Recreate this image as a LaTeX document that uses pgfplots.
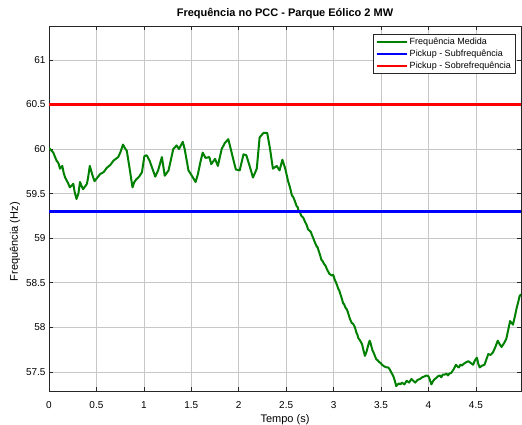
\documentclass[border=0pt]{standalone}
\usepackage{pgfplots}
\pgfplotsset{compat=1.18}
\usepackage{fontspec}
\setmainfont{Liberation Sans}
\definecolor{mgreen}{RGB}{0,128,0}
\definecolor{mblue}{RGB}{0,0,255}
\definecolor{mred}{RGB}{255,0,0}
\definecolor{axgray}{RGB}{38,38,38}
\begin{document}
\begin{tikzpicture}
\begin{axis}[
  scale only axis, width=472pt, height=365.5pt,
  at={(49pt,33.5pt)}, anchor=south west,
  xmin=0, xmax=4.975, ymin=57.28, ymax=61.38,
  xtick={0,0.5,...,4.5}, ytick={57.5,58,...,61},
  xticklabels={0,0.5,1,1.5,2,2.5,3,3.5,4,4.5},
  yticklabels={57.5,58,58.5,59,59.5,60,60.5,61},
  tick label style={font=\fontsize{10}{12}\selectfont},
  xticklabel style={anchor=base, yshift=-17pt},
  grid=major, major grid style={black!22, line width=0.6pt},
  axis line style={axgray, line width=0.7pt},
  tick style={axgray, line width=0.6pt}, major tick length=4pt,
  title={\bfseries Frequência no PCC - Parque Eólico 2 MW},
  title style={font=\fontsize{11}{13}\selectfont, at={(0.5,1)}, anchor=base, yshift=3pt},
  xlabel={Tempo (s)},
  xlabel style={font=\fontsize{11}{13}\selectfont, at={(0.5,0)}, anchor=base, yshift=-31pt},
  ylabel={Frequência (Hz)},
  ylabel style={font=\fontsize{11}{13}\selectfont, at={(axis description cs:-0.072,0.41)}, anchor=center},
  legend style={at={(1,1)}, anchor=north east, xshift=-6pt, yshift=-8pt,
    font=\fontsize{9}{10}\selectfont, draw=axgray,
    inner xsep=2pt, inner ysep=1.5pt, row sep=0pt},
  legend cell align=left,
  legend image code/.code={\draw[#1] plot coordinates {(0pt,0pt) (15pt,0pt) (30pt,0pt)};},
]
\addplot[color=mgreen, line width=2pt, line join=round] coordinates {
(0.00,60.01)(0.02,59.99)(0.045,59.96)(0.06,59.92)(0.08,59.87)(0.10,59.84)(0.116,59.78)(0.14,59.81)(0.155,59.73)(0.17,59.68)(0.20,59.62)(0.22,59.57)(0.24,59.59)(0.256,59.61)(0.27,59.52)(0.29,59.44)(0.31,59.50)(0.327,59.63)(0.345,59.58)(0.36,59.55)(0.38,59.58)(0.40,59.61)(0.415,59.70)(0.43,59.81)(0.46,59.70)(0.48,59.64)(0.51,59.68)(0.54,59.72)(0.575,59.74)(0.61,59.79)(0.645,59.82)(0.68,59.87)(0.705,59.89)(0.73,59.91)(0.755,59.97)(0.78,60.05)(0.80,60.01)(0.82,59.98)(0.85,59.78)(0.88,59.57)(0.90,59.63)(0.92,59.66)(0.95,59.69)(0.98,59.74)(1.005,59.92)(1.03,59.93)(1.06,59.87)(1.09,59.78)(1.12,59.69)(1.15,59.76)(1.19,59.91)(1.22,59.70)(1.26,59.76)(1.285,59.88)(1.31,60.00)(1.345,60.04)(1.37,60.00)(1.41,60.08)(1.43,60.00)(1.47,59.76)(1.50,59.71)(1.545,59.63)(1.57,59.72)(1.595,59.85)(1.62,59.96)(1.65,59.90)(1.69,59.91)(1.71,59.83)(1.75,59.89)(1.78,59.81)(1.82,60.00)(1.855,60.07)(1.89,60.11)(1.925,59.96)(1.95,59.85)(1.97,59.77)(2.01,59.76)(2.05,59.94)(2.08,59.93)(2.12,59.79)(2.15,59.68)(2.19,59.78)(2.22,60.13)(2.26,60.18)(2.30,60.18)(2.33,60.00)(2.36,59.78)(2.40,59.81)(2.43,59.76)(2.46,59.88)(2.49,59.78)(2.52,59.64)(2.54,59.57)(2.56,59.48)(2.575,59.46)(2.59,59.42)(2.61,59.36)(2.62,59.35)(2.63,59.31)(2.645,59.29)(2.66,59.25)(2.68,59.23)(2.70,59.18)(2.715,59.15)(2.73,59.10)(2.75,59.08)(2.76,59.07)(2.77,59.04)(2.785,59.00)(2.80,58.96)(2.82,58.91)(2.83,58.90)(2.845,58.85)(2.86,58.80)(2.87,58.76)(2.885,58.74)(2.90,58.71)(2.915,58.69)(2.93,58.65)(2.945,58.62)(2.955,58.60)(2.97,58.59)(2.98,58.58)(2.995,58.59)(3.01,58.54)(3.03,58.49)(3.05,58.43)(3.06,58.41)(3.075,58.36)(3.09,58.31)(3.10,58.27)(3.11,58.26)(3.125,58.22)(3.14,58.20)(3.15,58.17)(3.17,58.10)(3.19,58.05)(3.205,58.04)(3.22,58.01)(3.23,57.98)(3.24,57.94)(3.25,57.92)(3.26,57.88)(3.28,57.85)(3.30,57.81)(3.315,57.74)(3.33,57.68)(3.345,57.72)(3.355,57.76)(3.37,57.82)(3.38,57.85)(3.39,57.82)(3.40,57.78)(3.41,57.74)(3.42,57.72)(3.435,57.68)(3.45,57.64)(3.465,57.63)(3.48,57.61)(3.495,57.60)(3.51,57.58)(3.535,57.56)(3.56,57.55)(3.575,57.55)(3.59,57.53)(3.61,57.49)(3.63,57.45)(3.645,57.40)(3.66,57.34)(3.675,57.36)(3.69,57.37)(3.705,57.36)(3.72,57.38)(3.745,57.36)(3.77,57.40)(3.795,57.38)(3.82,57.42)(3.84,57.40)(3.86,57.38)(3.885,57.41)(3.91,57.42)(3.935,57.44)(3.96,57.45)(3.98,57.46)(4.00,57.45)(4.015,57.41)(4.03,57.36)(4.05,57.40)(4.065,57.42)(4.08,57.43)(4.10,57.45)(4.12,57.46)(4.135,57.44)(4.15,57.47)(4.17,57.47)(4.19,57.48)(4.205,57.46)(4.22,57.48)(4.24,57.49)(4.265,57.53)(4.29,57.58)(4.305,57.56)(4.32,57.55)(4.335,57.58)(4.35,57.57)(4.37,57.59)(4.385,57.60)(4.40,57.61)(4.42,57.62)(4.445,57.60)(4.47,57.58)(4.49,57.63)(4.51,57.66)(4.525,57.59)(4.54,57.55)(4.565,57.57)(4.59,57.58)(4.61,57.64)(4.63,57.70)(4.655,57.69)(4.68,57.72)(4.705,57.78)(4.73,57.85)(4.75,57.81)(4.77,57.78)(4.795,57.82)(4.82,57.87)(4.84,57.97)(4.86,58.07)(4.875,58.05)(4.89,58.03)(4.91,58.12)(4.93,58.22)(4.945,58.28)(4.96,58.35)(4.975,58.37)
};
\addlegendentry{Frequência Medida}
\addplot[color=mblue, line width=2.4pt] table {
x y
0 59.3
2.5 59.3
4.975 59.3
};
\addlegendentry{Pickup - Subfrequência}
\addplot[color=mred, line width=2.4pt] table {
x y
0 60.5
2.5 60.5
4.975 60.5
};
\addlegendentry{Pickup - Sobrefrequência}
\end{axis}
\pgfresetboundingbox
\path[use as bounding box] (0,0) rectangle (522pt,425pt);
\end{tikzpicture}
\end{document}
